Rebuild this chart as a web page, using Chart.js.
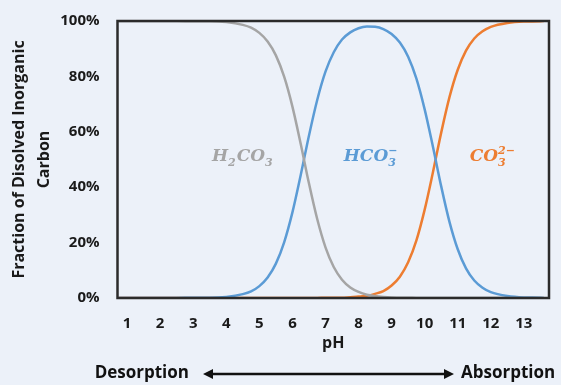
<!DOCTYPE html>
<html>
<head>
<meta charset="utf-8">
<script src="https://cdn.jsdelivr.net/npm/chart.js@4"></script>
<style>
  html, body { margin: 0; padding: 0; background: #ecf1f9; }
  #wrap { width: 561px; height: 385px; position: relative; }
</style>
</head>
<body>
<div id="wrap"><canvas id="chart"></canvas></div>
<script>
// pH values of the sampled points
const ph = [0.75, 1, 1.5, 2, 2.5, 3, 3.5, 4, 4.5, 4.75, 5, 5.25, 5.5, 5.75, 6, 6.25, 6.5, 6.75, 7, 7.25, 7.5, 7.75, 8, 8.25, 8.5, 8.75,
  9, 9.25, 9.5, 9.75, 10, 10.25, 10.5, 10.75, 11, 11.25, 11.5, 11.75, 12, 12.5, 13, 13.5, 13.6];
// fraction of dissolved inorganic carbon (%)
const h2co3 = [100, 100, 100, 100, 100, 99.9, 99.9, 99.6, 98.6, 97.6, 95.7, 92.6, 87.6, 79.9, 69.1, 55.7, 41.4, 28.5, 18.3, 11.2, 6.6, 3.8, 2.2, 1.2, 0.7, 0.4,
  0.2, 0.1, 0.1, 0, 0, 0, 0, 0, 0, 0, 0, 0, 0, 0, 0, 0, 0];
const hco3 = [0, 0, 0, 0, 0, 0.1, 0.1, 0.4, 1.4, 2.4, 4.3, 7.4, 12.4, 20.1, 30.9, 44.3, 58.6, 71.5, 81.7, 88.7, 93.3, 95.9, 97.4, 98.0, 97.9, 97.1,
  95.3, 92.2, 87.1, 79.2, 68.1, 54.6, 40.3, 27.5, 17.6, 10.7, 6.3, 3.7, 2.1, 0.7, 0.2, 0.1, 0];
const co3 = [0, 0, 0, 0, 0, 0, 0, 0, 0, 0, 0, 0, 0, 0, 0, 0, 0, 0, 0.1, 0.1, 0.1, 0.3, 0.5, 0.8, 1.5, 2.5,
  4.5, 7.7, 12.9, 20.8, 31.9, 45.4, 59.7, 72.5, 82.4, 89.3, 93.7, 96.3, 97.9, 99.3, 99.8, 99.9, 100];
const phTicks = [1, 2, 3, 4, 5, 6, 7, 8, 9, 10, 11, 12, 13];
const pctTicks = [0, 20, 40, 60, 80, 100];

const colors = { h2co3: "#a5a5a5", hco3: "#5b9bd5", co3: "#ed7d31" };

// species labels, placed in data coordinates
const speciesLabels = [
  { x: 4.5, y: 51, color: colors.h2co3, parts: [["H", ""], ["2", "sub"], ["CO", ""], ["3", "sub"]] },
  { x: 8.38, y: 51, color: colors.hco3, parts: [["HCO", ""], ["3", "sub", "\u2212"]] },
  { x: 12.06, y: 51, color: colors.co3, parts: [["CO", ""], ["3", "sub", "2\u2212"]] }
];

const toPoints = arr => arr.map((v, i) => ({ x: ph[i], y: v }));

/* frame, species labels and the bottom arrow row */
const extras = {
  id: "extras",
  afterDatasetsDraw(c) {
    const ctx = c.ctx;
    const a = c.chartArea;
    const xs = c.scales.x, ys = c.scales.y;

    ctx.save();
    ctx.strokeStyle = "#2b2b2b";
    ctx.lineWidth = 2.5;
    ctx.strokeRect(a.left, a.top, a.right - a.left, a.bottom - a.top);

    // species names
    const big = "bold italic 17px 'DejaVu Serif'";
    const small = "bold italic 11px 'DejaVu Serif'";
    speciesLabels.forEach(l => {
      let w = 0;
      l.parts.forEach(p => {
        if (p[1] === "sub") {
          ctx.font = small;
          w += Math.max(ctx.measureText(p[0]).width, p[2] ? ctx.measureText(p[2]).width : 0) + 1;
        } else {
          ctx.font = big;
          w += ctx.measureText(p[0]).width;
        }
      });
      let x = xs.getPixelForValue(l.x) - w / 2;
      const y = ys.getPixelForValue(l.y);
      ctx.fillStyle = l.color;
      ctx.textBaseline = "middle";
      ctx.textAlign = "left";
      l.parts.forEach(p => {
        if (p[1] === "sub") {
          ctx.font = small;
          ctx.fillText(p[0], x, y + 6);
          let ww = ctx.measureText(p[0]).width;
          if (p[2]) {
            ctx.fillText(p[2], x, y - 6);
            ww = Math.max(ww, ctx.measureText(p[2]).width);
          }
          x += ww + 1;
        } else {
          ctx.font = big;
          ctx.fillText(p[0], x, y);
          x += ctx.measureText(p[0]).width;
        }
      });
    });

    // Desorption <----> Absorption
    const rowY = 373;
    ctx.fillStyle = "#111";
    ctx.font = "bold 17px 'Open Sans'";
    ctx.textBaseline = "middle";
    ctx.textAlign = "right";
    ctx.fillText("Desorption", 189, rowY);
    ctx.textAlign = "left";
    ctx.fillText("Absorption", 461, rowY);

    const x1 = 203, x2 = 454;
    ctx.strokeStyle = "#111";
    ctx.lineWidth = 2.5;
    ctx.beginPath();
    ctx.moveTo(x1 + 6, rowY + 1);
    ctx.lineTo(x2 - 6, rowY + 1);
    ctx.stroke();
    ctx.beginPath();
    ctx.moveTo(x1, rowY + 1);
    ctx.lineTo(x1 + 10, rowY - 4);
    ctx.lineTo(x1 + 10, rowY + 6);
    ctx.closePath();
    ctx.moveTo(x2, rowY + 1);
    ctx.lineTo(x2 - 10, rowY - 4);
    ctx.lineTo(x2 - 10, rowY + 6);
    ctx.closePath();
    ctx.fill();
    ctx.restore();
  }
};

const line = (label, data, color) => ({
  label,
  data: toPoints(data),
  borderColor: color,
  borderWidth: 2.5,
  pointRadius: 0,
  cubicInterpolationMode: "monotone",
  fill: false
});

new Chart(document.getElementById("chart"), {
  type: "line",
  data: {
    datasets: [
      line("H2CO3", h2co3, colors.h2co3),
      line("HCO3-", hco3, colors.hco3),
      line("CO3 2-", co3, colors.co3)
    ]
  },
  options: {
    responsive: true,
    maintainAspectRatio: false,
    animation: false,
    layout: { padding: { left: 6.5, right: 12, top: 21, bottom: 30 } },
    plugins: { legend: { display: false }, tooltip: { enabled: false } },
    scales: {
      x: {
        type: "linear",
        min: 0.71,
        max: 13.76,
        afterBuildTicks: s => { s.ticks = phTicks.map(v => ({ value: v })); },
        afterFit: s => { s.height = 57; s.paddingLeft = 0; s.paddingRight = 0; },
        grid: { display: false, drawTicks: false },
        border: { display: false },
        ticks: { color: "#1a1a1a", padding: 16.5, font: { family: "'Open Sans'", size: 15, weight: "bold" }, autoSkip: false, maxRotation: 0 },
        title: { display: true, text: "pH", color: "#1a1a1a", padding: { top: 0, bottom: 2 }, font: { family: "'Open Sans'", size: 16, weight: "bold" } }
      },
      y: {
        min: 0,
        max: 100,
        afterBuildTicks: s => { s.ticks = pctTicks.map(v => ({ value: v })); },
        afterFit: s => { s.width = 111; s.paddingTop = 0; s.paddingBottom = 0; },
        grid: { display: false, drawTicks: false },
        border: { display: false },
        ticks: { color: "#1a1a1a", padding: 18, font: { family: "'Open Sans'", size: 15, weight: "bold" }, callback: v => v + "%" },
        title: {
          display: true,
          text: ["Fraction of Disolved Inorganic", "Carbon"],
          color: "#1a1a1a",
          padding: { top: 0, bottom: 0 },
          font: { family: "'Open Sans'", size: 16, weight: "bold", lineHeight: 1.56 }
        }
      }
    }
  },
  plugins: [extras]
});
</script>
</body>
</html>
